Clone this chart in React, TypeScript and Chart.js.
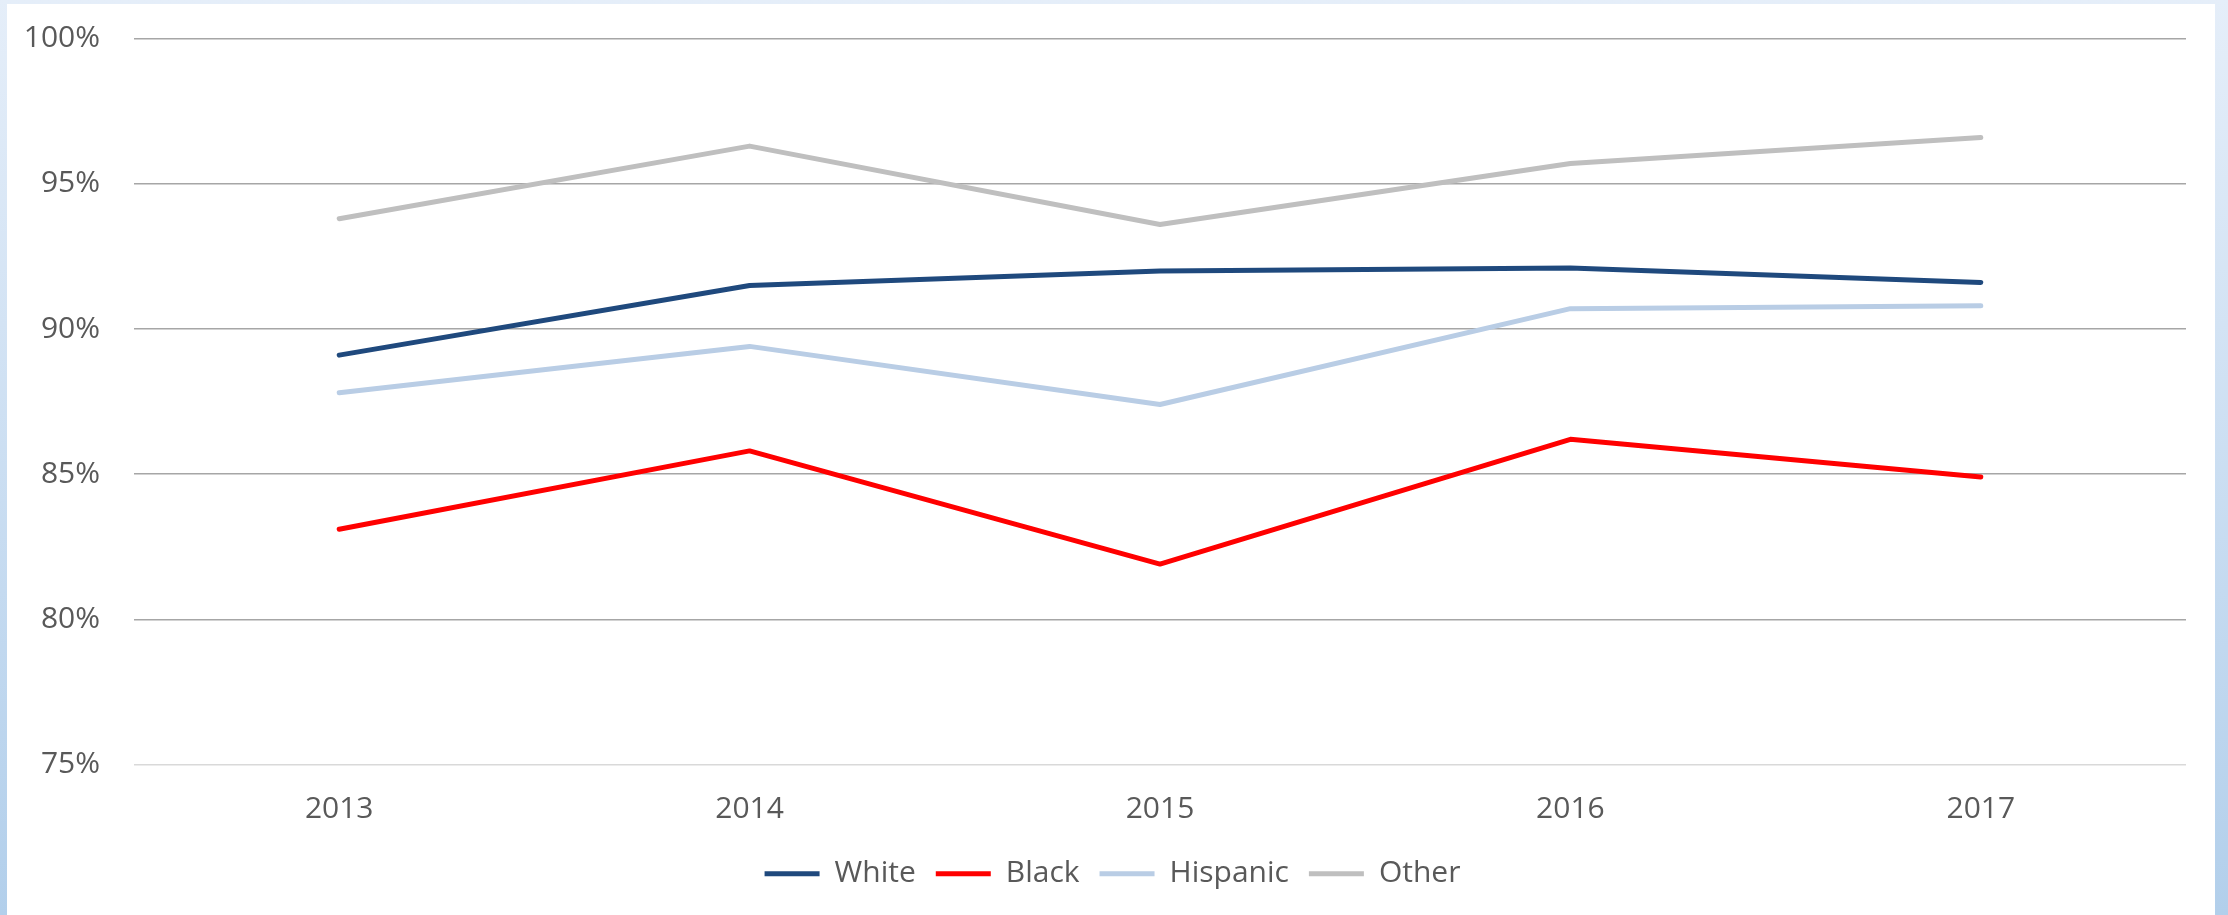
import React, { useEffect, useRef } from "react";
import { Chart, registerables } from "chart.js";

Chart.register(...registerables);

const years = ["2013", "2014", "2015", "2016", "2017"];
const white = [89.1, 91.5, 92.0, 92.1, 91.6];
const black = [83.1, 85.8, 81.9, 86.2, 84.9];
const hispanic = [87.8, 89.4, 87.4, 90.7, 90.8];
const other = [93.8, 96.3, 93.6, 95.7, 96.6];
const seriesNames = ["White", "Black", "Hispanic", "Other"];
const seriesColors = ["#1f497d", "#ff0000", "#b9cde5", "#bfbfbf"];
const yMin = 75;
const yMax = 100;
const yStep = 5;

const FONT = "'Open Sans', 'DejaVu Sans', sans-serif";
const TEXT = "#595959";

const legendShift = {
  id: "legendShift",
  afterLayout(chart: any) {
    if (chart.legend) {
      chart.legend.left += 16;
      chart.legend.right += 16;
    }
  },
};

export default function App() {
  const ref = useRef<HTMLCanvasElement | null>(null);

  useEffect(() => {
    if (!ref.current) return;
    const values = [white, black, hispanic, other];
    const chart = new Chart(ref.current, {
      type: "line",
      data: {
        labels: years,
        datasets: values.map((v, i) => ({
          label: seriesNames[i],
          data: v,
          borderColor: seriesColors[i],
          backgroundColor: seriesColors[i],
          borderWidth: 5,
          borderCapStyle: "round",
          borderJoinStyle: "round",
          pointRadius: 0,
          pointHoverRadius: 0,
          tension: 0,
          fill: false,
        })),
      },
      plugins: [legendShift],
      options: {
        animation: false,
        responsive: false,
        maintainAspectRatio: false,
        layout: { padding: { top: 34.7, right: 29, bottom: 16.3, left: 0 } },
        plugins: {
          tooltip: { enabled: false },
          legend: {
            position: "bottom",
            labels: {
              usePointStyle: true,
              pointStyle: "line",
              pointStyleWidth: 55,
              padding: 20,
              color: TEXT,
              font: { family: FONT, size: 30 },
            },
          },
        },
        scales: {
          x: {
            offset: true,
            grid: { display: false, drawTicks: false },
            border: { display: false },
            ticks: {
              color: TEXT,
              padding: 27,
              font: { family: FONT, size: 30 },
              maxRotation: 0,
            },
            afterFit: (scale: any) => {
              scale.height = 74.3;
            },
          },
          y: {
            min: yMin,
            max: yMax,
            grid: {
              drawTicks: false,
              lineWidth: 1.5,
              color: (ctx: any) =>
                ctx.tick && ctx.tick.value === yMin ? "#d9d9d9" : "#a6a6a6",
            },
            border: { display: false },
            ticks: {
              stepSize: yStep,
              padding: 34,
              color: TEXT,
              font: { family: FONT, size: 30 },
              callback: (v: any) => `${v}%`,
            },
            afterFit: (scale: any) => {
              scale.width = 127;
              scale.paddingTop = 0;
              scale.paddingBottom = 0;
            },
          },
        },
      },
    });
    return () => chart.destroy();
  }, []);

  return (
    <div
      style={{
        position: "fixed",
        left: 0,
        top: 0,
        width: 2228,
        height: 915,
        background: "linear-gradient(to bottom, #e5eef9, #b2cfeb)",
        overflow: "hidden",
      }}
    >
      <div
        style={{
          position: "absolute",
          left: 7,
          top: 4,
          width: 2208,
          height: 911,
          background: "#ffffff",
        }}
      >
        <canvas ref={ref} width={2208} height={911} style={{ display: "block" }} />
      </div>
    </div>
  );
}
